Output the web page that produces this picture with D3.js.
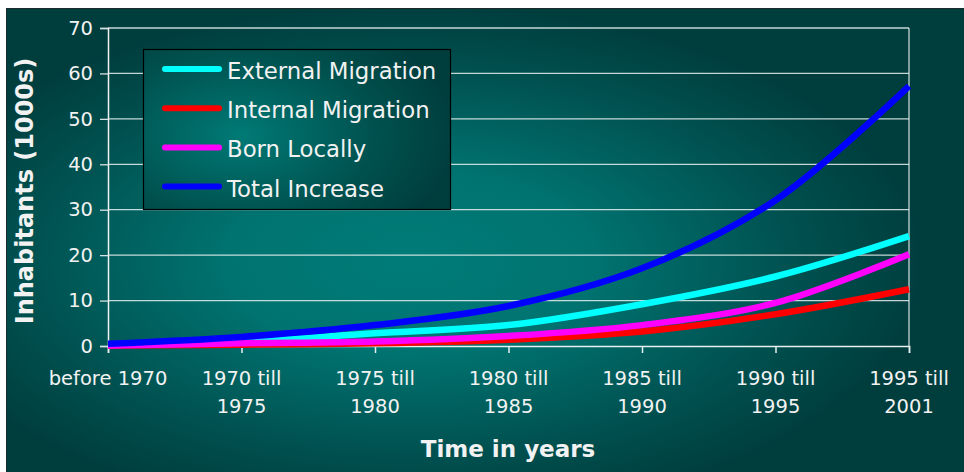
<!DOCTYPE html>
<html>
<head>
<meta charset="utf-8">
<script src="https://cdn.jsdelivr.net/npm/d3@7"></script>
<style>
  html, body { margin: 0; padding: 0; background: #ffffff; }
  svg { display: block; }
  text { font-family: "DejaVu Sans", Verdana, sans-serif; fill: #f2f2f2; }
</style>
</head>
<body>
<svg id="chart" width="964" height="472"></svg>
<script>
// Population growth by origin, in thousands of inhabitants
const periods = ["before 1970", "1970 till 1975", "1975 till 1980", "1980 till 1985",
                 "1985 till 1990", "1990 till 1995", "1995 till 2001"];
const externalMigration = [0.2, 1.0, 2.8, 4.6, 9.2, 15.3, 24.2];
const internalMigration = [0.1, 0.3, 0.6, 1.4, 3.2, 7.0, 12.5];
const bornLocally       = [0.1, 0.6, 1.0, 2.2, 4.6, 9.5, 20.2];
const totalIncrease     = [0.5, 2.0, 4.6, 8.8, 17.1, 32.1, 57.2];
const seriesNames  = ["External Migration", "Internal Migration", "Born Locally", "Total Increase"];
const seriesColors = ["#00ffff", "#ff0000", "#ff00ff", "#0000ff"];
const yTicks = [0, 10, 20, 30, 40, 50, 60, 70];

const series = seriesNames.map((name, i) => ({
  name,
  color: seriesColors[i],
  values: [externalMigration, internalMigration, bornLocally, totalIncrease][i]
}));

const svg = d3.select("#chart");
const defs = svg.append("defs");

// Background glow of the slide
const bg = defs.append("radialGradient")
  .attr("id", "bgGlow")
  .attr("gradientUnits", "userSpaceOnUse")
  .attr("cx", 410).attr("cy", 262).attr("r", 520)
  .attr("gradientTransform", "translate(410,262) scale(1,0.5) translate(-410,-262)");
bg.append("stop").attr("offset", 0).attr("stop-color", "#007c78");
bg.append("stop").attr("offset", 0.35).attr("stop-color", "#007370");
bg.append("stop").attr("offset", 0.75).attr("stop-color", "#00504f");
bg.append("stop").attr("offset", 1).attr("stop-color", "#003d3d");

const lg = defs.append("radialGradient")
  .attr("id", "legendGlow")
  .attr("gradientUnits", "userSpaceOnUse")
  .attr("cx", 240).attr("cy", 135).attr("r", 220)
  .attr("gradientTransform", "translate(240,135) scale(1,0.6) translate(-240,-135)");
lg.append("stop").attr("offset", 0).attr("stop-color", "#007a76");
lg.append("stop").attr("offset", 0.6).attr("stop-color", "#00524f");
lg.append("stop").attr("offset", 1).attr("stop-color", "#003d3d");

svg.append("rect")
  .attr("x", 6.5).attr("y", 8.5).attr("width", 964).attr("height", 470)
  .attr("fill", "url(#bgGlow)")
  .attr("stroke", "#1b2b2b").attr("stroke-width", 1);

const plot = { left: 108, right: 909, top: 28, bottom: 346 };

const x = d3.scalePoint().domain(periods).range([plot.left, plot.right]);
const y = d3.scaleLinear().domain([0, 70]).range([plot.bottom, plot.top]);

// Horizontal gridlines and plot frame
svg.append("g").selectAll("line")
  .data(yTicks.filter(d => d > 0))
  .join("line")
  .attr("x1", plot.left).attr("x2", plot.right)
  .attr("y1", d => y(d)).attr("y2", d => y(d))
  .attr("stroke", "#e8f0f0").attr("stroke-opacity", 0.85).attr("stroke-width", 1.3);

svg.append("line")
  .attr("x1", plot.right).attr("x2", plot.right)
  .attr("y1", plot.top).attr("y2", plot.bottom)
  .attr("stroke", "#e8f0f0").attr("stroke-opacity", 0.85).attr("stroke-width", 1.3);

// Y axis
const yAxis = svg.append("g")
  .attr("transform", `translate(${plot.left},0)`)
  .call(d3.axisLeft(y).tickValues(yTicks).tickSize(8).tickPadding(7));
yAxis.select(".domain").attr("stroke", "#f2f2f2").attr("stroke-width", 1.5);
yAxis.selectAll(".tick line").attr("stroke", "#d8e2e2").attr("stroke-width", 1.3);
yAxis.selectAll(".tick text")
  .attr("fill", "#f2f2f2")
  .style("font-size", "19.5px")
  .style("font-family", "'DejaVu Sans', Verdana, sans-serif");

// X axis
const xAxis = svg.append("g")
  .attr("transform", `translate(0,${plot.bottom})`)
  .call(d3.axisBottom(x).tickSize(7).tickFormat(""));
xAxis.select(".domain").attr("stroke", "#e8f0f0").attr("stroke-width", 1.5);
xAxis.selectAll(".tick line").attr("stroke", "#e8f0f0").attr("stroke-width", 1.5);

const xLabels = svg.append("g").selectAll("text")
  .data(periods)
  .join("text")
  .attr("x", d => x(d))
  .attr("y", 385)
  .attr("text-anchor", "middle")
  .style("font-size", "19.5px");
xLabels.each(function(d) {
  const parts = d.split(" till ");
  const t = d3.select(this);
  if (parts.length === 1) {
    t.append("tspan").attr("x", x(d)).text(d);
  } else {
    t.append("tspan").attr("x", x(d)).text(parts[0] + " till");
    t.append("tspan").attr("x", x(d)).attr("dy", 27.7).text(parts[1]);
  }
});

// Axis titles
svg.append("text")
  .attr("transform", "translate(33,191) rotate(-90)")
  .attr("text-anchor", "middle")
  .style("font-size", "24px").style("font-weight", "bold")
  .text("Inhabitants (1000s)");

svg.append("text")
  .attr("x", 508).attr("y", 457)
  .attr("text-anchor", "middle")
  .style("font-size", "23px").style("font-weight", "bold")
  .text("Time in years");

// Series lines
const line = d3.line()
  .x((d, i) => x(periods[i]))
  .y(d => y(d))
  .curve(d3.curveCatmullRom.alpha(0.5));

svg.append("g").selectAll("path")
  .data(series)
  .join("path")
  .attr("d", d => line(d.values))
  .attr("fill", "none")
  .attr("stroke", d => d.color)
  .attr("stroke-width", 6.5)
  .attr("stroke-linejoin", "round");

// Legend
const legend = svg.append("g");
legend.append("rect")
  .attr("x", 143.5).attr("y", 49.5).attr("width", 307).attr("height", 160)
  .attr("fill", "url(#legendGlow)")
  .attr("stroke", "#000000").attr("stroke-width", 1.2);

const rows = legend.selectAll("g.row")
  .data(series)
  .join("g")
  .attr("class", "row")
  .attr("transform", (d, i) => `translate(0,${69 + i * 39.2})`);
rows.append("line")
  .attr("x1", 165).attr("x2", 219)
  .attr("stroke", d => d.color)
  .attr("stroke-width", 6)
  .attr("stroke-linecap", "round");
rows.append("text")
  .attr("x", 227).attr("y", 10)
  .style("font-size", "22.8px")
  .text(d => d.name);
</script>
</body>
</html>
